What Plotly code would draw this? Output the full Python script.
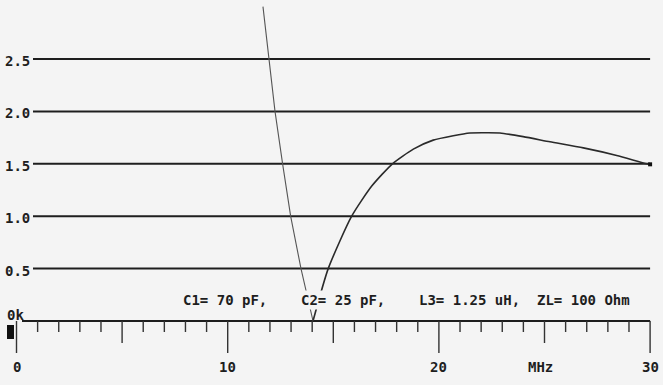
import plotly.graph_objects as go

# ---- data ----
freq_left = [11.67, 11.97, 12.24, 12.60, 12.98, 13.47, 14.04]
vswr_left = [3.00, 2.50, 2.00, 1.50, 1.00, 0.50, 0.00]

freq_right = [14.04, 14.76, 15.87, 16.83, 17.80, 18.79, 19.73, 20.68,
              21.47, 22.18, 22.89, 23.99, 25.26, 26.84, 28.42, 29.84, 30.0]
vswr_right = [0.00, 0.50, 1.00, 1.29, 1.50, 1.64, 1.726, 1.768,
              1.794, 1.796, 1.794, 1.759, 1.71, 1.652, 1.58, 1.50, 1.495]

y_grid = [0.5, 1.0, 1.5, 2.0, 2.5]
y_labels = ["0.5", "1.0", "1.5", "2.0", "2.5"]
x_major = [0, 10, 20, 30]
x_major_labels = ["0", "10", "20", "30"]
x_medium = [5, 15, 25]
x_minor = [f for f in range(1, 30) if f % 5 != 0]
unit_label = "MHz"
unit_pos = 24.82
params = "C1= 70 pF,    C2= 25 pF,    L3= 1.25 uH,  ZL= 100 Ohm"

# ---- styling ----
BG = "#f4f4f4"
INK = "#1e1e1e"
FONT = dict(family="DejaVu Sans Mono", size=14, color=INK, weight="bold")
PX_X = 21.12   # pixels per MHz
PX_Y = 104.8   # pixels per unit
X0_PX = 16.5
Y0_PX = 321.0
W, H = 663, 385

def dx(px):
    return px / PX_X

def dy(px):
    return px / PX_Y

fig = go.Figure()

# horizontal reference lines
gx, gy = [], []
for v in y_grid:
    gx += [dx(33 - X0_PX), 30, None]
    gy += [v, v, None]
fig.add_trace(go.Scatter(x=gx, y=gy, mode="lines",
                         line=dict(color=INK, width=2), hoverinfo="skip"))

# baseline axis
fig.add_trace(go.Scatter(x=[dx(22 - X0_PX), 30], y=[0, 0], mode="lines",
                         line=dict(color=INK, width=2), hoverinfo="skip"))

# ticks
tx, ty = [], []
for f in x_minor:
    tx += [f, f, None]
    ty += [0, -dy(11), None]
for f in x_medium:
    tx += [f, f, None]
    ty += [0, -dy(22), None]
for f in x_major:
    tx += [f, f, None]
    ty += [0, -dy(32), None]
fig.add_trace(go.Scatter(x=tx, y=ty, mode="lines",
                         line=dict(color="#333333", width=1.4), hoverinfo="skip"))

# curve
fig.add_trace(go.Scatter(x=freq_left, y=vswr_left, mode="lines",
                         line=dict(color="#555555", width=1.1), hoverinfo="skip"))
fig.add_trace(go.Scatter(x=freq_right, y=vswr_right, mode="lines",
                         line=dict(color="#2a2a2a", width=1.6, shape="spline", smoothing=0.6),
                         hoverinfo="skip"))
fig.add_trace(go.Scatter(x=[freq_right[-1]], y=[vswr_right[-1]], mode="markers",
                         marker=dict(symbol="square", size=4, color="#111111"),
                         hoverinfo="skip"))

# small black block left of axis
fig.add_shape(type="rect", xref="x", yref="y",
              x0=dx(7 - X0_PX), x1=dx(14 - X0_PX), y0=-dy(325 - Y0_PX), y1=-dy(339 - Y0_PX),
              fillcolor="#111111", line=dict(width=0))

ann = []
for v, t in zip(y_grid, y_labels):
    ann.append(dict(x=dx(32 - X0_PX), y=v, text=t, xanchor="right", yanchor="middle",
                    showarrow=False, font=FONT, yshift=-2))
ann.append(dict(x=dx(5 - X0_PX), y=dy(Y0_PX - 315), text="0k", xanchor="left",
                yanchor="middle", showarrow=False, font=FONT))
for f, t in zip(x_major, x_major_labels):
    ann.append(dict(x=f, y=-dy(367 - Y0_PX), text=t, xanchor="center", yanchor="middle",
                    showarrow=False, font=FONT))
ann.append(dict(x=unit_pos, y=-dy(367 - Y0_PX), text=unit_label, xanchor="center",
                yanchor="middle", showarrow=False, font=FONT))
ann.append(dict(x=dx(181 - X0_PX), y=dy(Y0_PX - 300), text=params.replace(" ", "&nbsp;"),
                xanchor="left", yanchor="middle", showarrow=False, font=FONT,
                bgcolor=BG, borderpad=1))

fig.update_layout(
    width=W, height=H,
    margin=dict(l=0, r=0, t=0, b=0),
    paper_bgcolor=BG, plot_bgcolor=BG,
    showlegend=False,
    annotations=ann,
    xaxis=dict(range=[-X0_PX / PX_X, (W - X0_PX) / PX_X], visible=False, fixedrange=True),
    yaxis=dict(range=[-(H - Y0_PX) / PX_Y, Y0_PX / PX_Y], visible=False, fixedrange=True),
)

fig.write_html("out.html", config={"displayModeBar": False},
               post_script="document.body.style.margin='0px';document.body.style.overflow='hidden';")
